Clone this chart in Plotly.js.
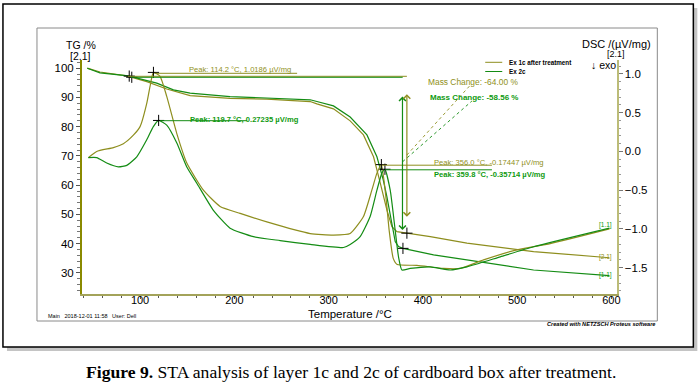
<!DOCTYPE html>
<html><head><meta charset="utf-8">
<script src="https://cdn.plot.ly/plotly-3.0.1.min.js"></script>
<style>html,body{margin:0;padding:0;background:#fff;}#chart{width:699px;height:383px;}</style>
</head><body><div id="chart"></div>
<script>
// ---- data ----
const tempTG1 = [44, 57.5, 85.9, 107.1, 128.3, 153.1, 195.5, 234.5, 280.5, 287.6, 305.2, 322.9, 337.0, 347.7, 354.8, 361.9, 367.2, 372.5, 383.1, 407.9, 446.8, 517.5, 598];
const tg1     = [100.0, 98.7, 97.4, 95.4, 92.9, 90.6, 89.7, 89.4, 88.6, 87.8, 86.1, 82.0, 77.2, 69.7, 60.8, 51.5, 45.8, 44.1, 43.6, 42.4, 40.2, 37.3, 35.2];
const tempTG2 = [44, 57.5, 87.6, 117.7, 135.4, 153.1, 195.5, 234.5, 280.5, 287.6, 305.2, 322.9, 340.7, 351.3, 358.0, 361.9, 367.2, 370.7, 374.2, 378.9, 411.4, 446.8, 517.5, 598];
const tg2     = [100.0, 98.4, 97.4, 94.9, 92.6, 91.5, 90.3, 89.9, 89.2, 88.6, 87.1, 83.3, 77.2, 69.7, 61.8, 56.0, 47.0, 40.7, 39.0, 38.4, 36.2, 34.4, 31.0, 29.1];
const tempDSC1 = [45.1, 54.0, 71.7, 82.3, 92.9, 100.0, 107.1, 110.6, 114.2, 121.2, 128.3, 139.0, 149.6, 167.2, 184.9, 206.2, 234.5, 280.5, 305.2, 322.9, 337.0, 345.9, 351.3, 356.0, 361.2, 364.3, 368.6, 372.8, 393.7, 422.0, 439.7, 464.4, 499.9, 535.2, 598];
const dsc1     = [-0.08, 0.0, 0.05, 0.10, 0.21, 0.32, 0.62, 0.84, 1.02, 0.97, 0.71, 0.23, -0.15, -0.50, -0.71, -0.80, -0.91, -1.06, -1.08, -1.06, -0.84, -0.50, -0.28, -0.17, -0.63, -1.02, -1.38, -1.46, -1.47, -1.51, -1.51, -1.40, -1.27, -1.19, -1.00];
const tempDSC2 = [45.1, 54.0, 64.6, 77.0, 85.9, 96.5, 107.1, 114.1, 119.7, 128.3, 139.0, 149.6, 160.2, 177.8, 195.5, 220.3, 248.6, 280.5, 315.8, 322.9, 333.5, 344.1, 351.3, 356.6, 359.8, 365.4, 370.7, 374.2, 377.8, 386.6, 407.9, 429.1, 446.8, 482.2, 517.5, 598];
const dsc2     = [-0.08, -0.08, -0.15, -0.20, -0.18, -0.07, 0.15, 0.32, 0.40, 0.34, 0.11, -0.20, -0.41, -0.76, -0.99, -1.10, -1.15, -1.20, -1.24, -1.20, -1.10, -0.84, -0.50, -0.28, -0.23, -0.50, -1.02, -1.36, -1.53, -1.51, -1.49, -1.53, -1.49, -1.36, -1.23, -0.99];
// marked points
const tgMarkT = [88.5, 91.2, 383.1, 378.9];
const tgMarkV = [97.3, 96.9, 43.6, 38.4];
const dscMarkT = [114.2, 119.7, 356.0, 359.8];
const dscMarkV = [1.02, 0.40, -0.17, -0.23];
const seriesNames = ['Ex 1c after treatment', 'Ex 2c'];
const massChange = ['Mass Change: -64.00 %', 'Mass Change: -58.56 %'];
const peakLabels = ['Peak: 114.2 °C, 1.0186 µV/mg', 'Peak: 119.7 °C, 0.27235 µV/mg', 'Peak: 356.0 °C, -0.17447 µV/mg', 'Peak: 359.8 °C, -0.35714 µV/mg'];

// ---- layout helpers ----
const L = 82, R = 616.7, T = 60, B = 294;
const px = x => (x - L) / (R - L);
const py = y => (B - y) / (B - T);
const OL = '#8e8e1e', GR = '#148c14';
const OLT = '#8f8f20', GRT = '#0f9a0f';
const FONT = 'Liberation Sans, Arial, sans-serif';

const traces = [
  {x: tempTG1, y: tg1, mode: 'lines', line: {color: OL, width: 1.2}, hoverinfo: 'skip'},
  {x: tempTG2, y: tg2, mode: 'lines', line: {color: GR, width: 1.2}, hoverinfo: 'skip'},
  {x: tempDSC1, y: dsc1, yaxis: 'y2', mode: 'lines', line: {color: OL, width: 1.2, shape: 'spline', smoothing: 0.5}, hoverinfo: 'skip'},
  {x: tempDSC2, y: dsc2, yaxis: 'y2', mode: 'lines', line: {color: GR, width: 1.2, shape: 'spline', smoothing: 0.5}, hoverinfo: 'skip'},
  {x: tgMarkT, y: tgMarkV, mode: 'markers', marker: {symbol: 'cross-thin', size: 8, line: {color: '#000', width: 1}}, hoverinfo: 'skip'},
  {x: dscMarkT, y: dscMarkV, yaxis: 'y2', mode: 'markers', marker: {symbol: 'cross-thin', size: 8, line: {color: '#000', width: 1}}, hoverinfo: 'skip'}
];

function line(x0, y0, x1, y1, color, width, dash) {
  return {type: 'line', xref: 'paper', yref: 'paper', x0: px(x0), y0: py(y0), x1: px(x1), y1: py(y1),
          line: {color: color, width: width || 1, dash: dash || 'solid'}};
}
const shapes = [
  {type: 'rect', xref: 'paper', yref: 'paper', x0: px(7), y0: py(351), x1: px(697), y1: py(8), fillcolor: '#c4c4c4', line: {width: 0}, layer: 'below'},
  {type: 'rect', xref: 'paper', yref: 'paper', x0: px(3), y0: py(347), x1: px(693), y1: py(4), fillcolor: '#ffffff', line: {color: '#000', width: 1.5}, layer: 'below'},
  {type: 'rect', xref: 'paper', yref: 'paper', x0: px(37), y0: py(321), x1: px(657), y1: py(28), line: {color: '#8a8a8a', width: 1}, layer: 'below'},
  // legend lines
  line(485, 62.3, 502, 62.3, OL, 1), line(485, 71.5, 502, 71.5, GR, 1),
  // baseline reference lines
  line(128, 76.3, 406.7, 76.3, OL, 1), line(131, 77.3, 402.5, 77.3, GR, 1),
  // peak lines
  line(154.3, 73.3, 297, 73.3, OL, 1), line(160, 120.7, 247, 120.7, GR, 1),
  line(381.7, 165.2, 491.7, 165.2, OL, 1), line(385, 169.8, 491.7, 169.8, GR, 1),
  // leaders to mass change labels
  line(406.7, 155, 470.7, 84.5, OL, 0.9, 'dot'), line(402.5, 161.7, 471.7, 101, GR, 0.9, 'dot')
];

function txt(text, x, y, size, color, xa, extra) {
  return Object.assign({xref: 'paper', yref: 'paper', x: px(x), y: py(y), xanchor: xa || 'left', yanchor: 'middle',
    text: text, showarrow: false, font: {family: FONT, size: size, color: color || '#000'}}, extra || {});
}
function arrow(x, y0, y1, color) {
  return {xref: 'paper', yref: 'paper', axref: 'paper', ayref: 'paper', x: px(x), y: py(y1), ax: px(x), ay: py(y0),
    text: '', showarrow: true, arrowhead: 4, arrowside: 'end+start', arrowsize: 1.1, arrowwidth: 1.2, arrowcolor: color, standoff: 0, startstandoff: 0};
}
const annotations = [
  txt('TG /%', 81.5, 44.5, 10.5, '#000', 'center'),
  txt('[2.1]', 80.5, 56, 10.5, '#000', 'center'),
  txt('DSC /(µV/mg)', 616.5, 43.5, 11, '#000', 'center'),
  txt('[2.1]', 616, 53.5, 9, '#000', 'center'),
  txt('↓ exo', 603.5, 64.5, 10.5, '#000', 'center'),
  txt('<b>' + seriesNames[0] + '</b>', 506.5, 62.3, 6.3, '#000'),
  txt('<b>' + seriesNames[1] + '</b>', 506.5, 71.5, 6.3, '#000'),
  txt(massChange[0], 426, 82.3, 8.4, OLT),
  txt('<b>' + massChange[1] + '</b>', 428, 97.7, 8, GRT),
  txt(peakLabels[0], 186.7, 69.3, 7.6, OLT),
  txt('<b>' + peakLabels[1] + '</b>', 188, 119, 7.6, GRT),
  txt(peakLabels[2], 431.7, 162.8, 7.6, OLT),
  txt('<b>' + peakLabels[3] + '</b>', 432, 174, 7.6, GRT),
  txt('[1.1]', 605, 225.5, 6.5, GRT, 'center'),
  txt('[2.1]', 605, 256.5, 6.5, OLT, 'center'),
  txt('[1.1]', 605, 274.5, 6.5, GRT, 'center'),
  txt('Temperature /°C', 350, 313.5, 11.5, '#000', 'center'),
  txt('Main&nbsp;&nbsp;&nbsp;2018-12-01 11:58&nbsp;&nbsp;&nbsp;User: Dell', 46, 315.5, 5.5, '#000'),
  txt('<b><i>Created with NETZSCH Proteus software</i></b>', 657, 324.3, 5.6, '#000', 'right'),
  txt('<b>Figure 9.</b> STA analysis of layer 1c and 2c of cardboard box after treatment.', 351, 371.5, 17.6, '#000', 'center',
      {font: {family: 'Liberation Serif, Times New Roman, serif', size: 17.6, color: '#000'}}),
  arrow(402.3, 95, 230, GR),
  arrow(406.7, 92.7, 216.7, OL)
];

const layout = {
  width: 699, height: 383,
  margin: {l: L, r: 699 - R, t: T, b: 383 - B, pad: 0},
  paper_bgcolor: '#ffffff', plot_bgcolor: 'rgba(0,0,0,0)',
  showlegend: false,
  font: {family: FONT, size: 11.5, color: '#000'},
  xaxis: {range: [38.4, 606], tick0: 0, dtick: 100, showgrid: false, zeroline: false,
          showline: true, linecolor: '#a3a35a', linewidth: 1.5, ticks: 'outside', ticklen: 3, tickcolor: '#555',
          ticklabelstandoff: -8,
          minor: {dtick: 20, ticks: 'outside', ticklen: 2, tickcolor: '#555'},
          tickfont: {family: FONT, size: 11, color: '#000'}},
  yaxis: {range: [22.8, 102.8], tick0: 0, dtick: 10, showgrid: false, zeroline: false,
          showline: true, linecolor: '#8a8a00', linewidth: 2, ticks: 'outside', ticklen: 4, tickcolor: '#555',
          minor: {dtick: 2, ticks: 'outside', ticklen: 3, tickcolor: '#777'},
          tickfont: {family: FONT, size: 11.5, color: '#000'}},
  yaxis2: {range: [-1.84, 1.18], tick0: 0, dtick: 0.5, tickformat: '.1f', overlaying: 'y', side: 'right',
          showgrid: false, zeroline: false, showline: true, linecolor: '#bcbc78', linewidth: 1.5,
          ticks: 'outside', ticklen: 4, tickcolor: '#777',
          minor: {dtick: 0.1, ticks: 'outside', ticklen: 2, tickcolor: '#999'},
          tickfont: {family: FONT, size: 11.5, color: '#000'}},
  shapes: shapes,
  annotations: annotations
};
Plotly.newPlot('chart', traces, layout, {staticPlot: true, displayModeBar: false});
</script></body></html>
